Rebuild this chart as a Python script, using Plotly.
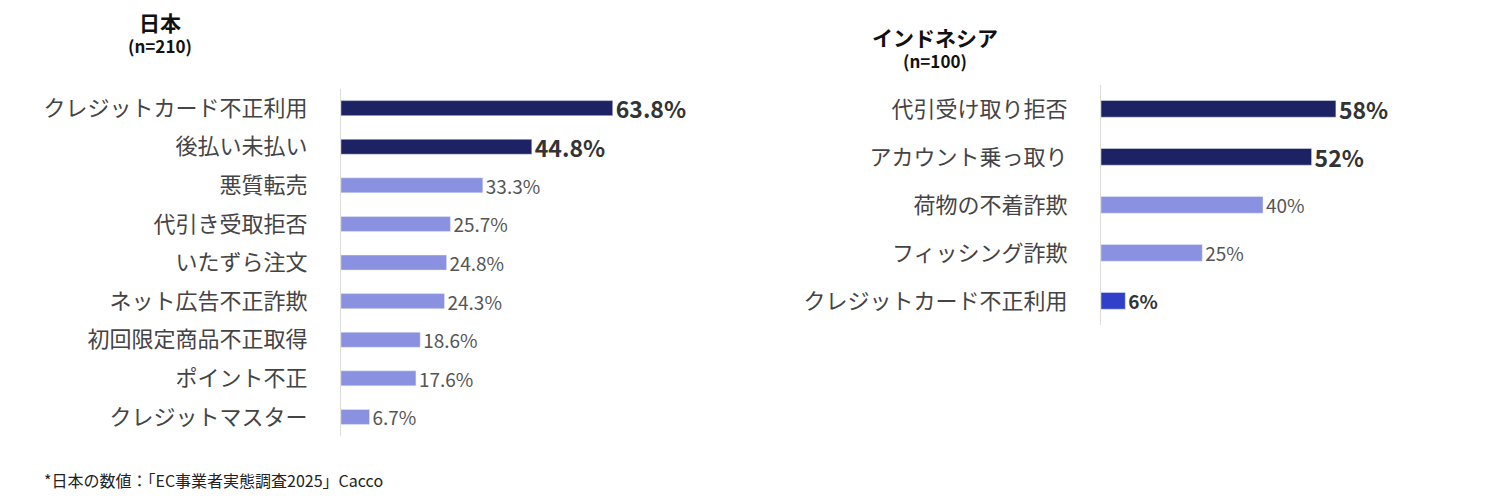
import plotly.graph_objects as go

jp_cats = ["クレジットカード不正利用","後払い未払い","悪質転売","代引き受取拒否","いたずら注文","ネット広告不正詐欺","初回限定商品不正取得","ポイント不正","クレジットマスター"]
jp_vals = [63.8,44.8,33.3,25.7,24.8,24.3,18.6,17.6,6.7]
id_cats = ["代引受け取り拒否","アカウント乗っ取り","荷物の不着詐欺","フィッシング詐欺","クレジットカード不正利用"]
id_vals = [58,52,40,25,6]

NAVY="#1c2263"; LIGHT="#8a91e0"; BLUE="#3140c8"
FONT="Noto Sans CJK JP"
DX=8/1500; DY=8/502

jp_colors=[NAVY,NAVY]+[LIGHT]*7
jp_text=[f"<b>{v}%</b>" if i<2 else f"{v}%" for i,v in enumerate(jp_vals)]
jp_size=[23 if i<2 else 19 for i in range(9)]
jp_tcol=["#333" if i<2 else "#555" for i in range(9)]
id_colors=[NAVY,NAVY,LIGHT,LIGHT,BLUE]
id_text=[f"<b>{v}%</b>" if i in (0,1,4) else f"{v}%" for i,v in enumerate(id_vals)]
id_size=[23,23,19,19,19]
id_tcol=["#333","#333","#555","#555","#333"]

fig=go.Figure()
fig.add_bar(y=jp_cats,x=jp_vals,orientation="h",marker_color=jp_colors,width=0.39,
            text=jp_text,textposition="outside",constraintext="none",
            textfont=dict(size=jp_size,color=jp_tcol,family=FONT),
            cliponaxis=False,xaxis="x",yaxis="y")
fig.add_bar(y=id_cats,x=id_vals,orientation="h",marker_color=id_colors,width=0.35,
            text=id_text,textposition="outside",constraintext="none",
            textfont=dict(size=id_size,color=id_tcol,family=FONT),
            cliponaxis=False,xaxis="x2",yaxis="y2")

ax=dict(showgrid=False,zeroline=False,showticklabels=False,fixedrange=True)
fig.update_layout(
    width=1500,height=502,margin=dict(l=0,r=0,t=0,b=0),
    plot_bgcolor="white",paper_bgcolor="white",showlegend=False,
    font=dict(family=FONT,color="#444"),
    xaxis=dict(domain=[0.2273-DX,0.5113-DX],range=[0,100],**ax),
    xaxis2=dict(domain=[0.734-DX,0.950-DX],range=[0,80],**ax),
    yaxis=dict(domain=[0.131+DY,0.823+DY],anchor="x",categoryorder="array",categoryarray=jp_cats,
               autorange=False,range=[8.5,-0.5],showline=True,linecolor="#ddd",linewidth=1,
               showgrid=False,ticks="",ticklabelstandoff=28,tickfont=dict(size=22,color="#444")),
    yaxis2=dict(domain=[0.353+DY,0.831+DY],anchor="x2",categoryorder="array",categoryarray=id_cats,
               autorange=False,range=[4.5,-0.5],showline=True,linecolor="#ddd",linewidth=1,
               showgrid=False,ticks="",ticklabelstandoff=28,tickfont=dict(size=22,color="#444")),
)
ann=[("<b>日本</b>",160,22,21),("<b>(n=210)</b>",160,45,17),
     ("<b>インドネシア</b>",935,37,21),("<b>(n=100)</b>",935,60,17)]
for t,x,y,s in ann:
    fig.add_annotation(text=t,x=x/1500-DX,y=1-y/502+DY,xref="paper",yref="paper",showarrow=False,
                       font=dict(size=s,color="#111",family=FONT),xanchor="center",yanchor="middle")
fig.add_annotation(text="*日本の数値：「EC事業者実態調査2025」Cacco",x=42/1500-DX,y=1-480/502+DY,xref="paper",yref="paper",
                   showarrow=False,xanchor="left",yanchor="middle",font=dict(size=16,color="#222",family=FONT))
fig.write_html("out.html")
